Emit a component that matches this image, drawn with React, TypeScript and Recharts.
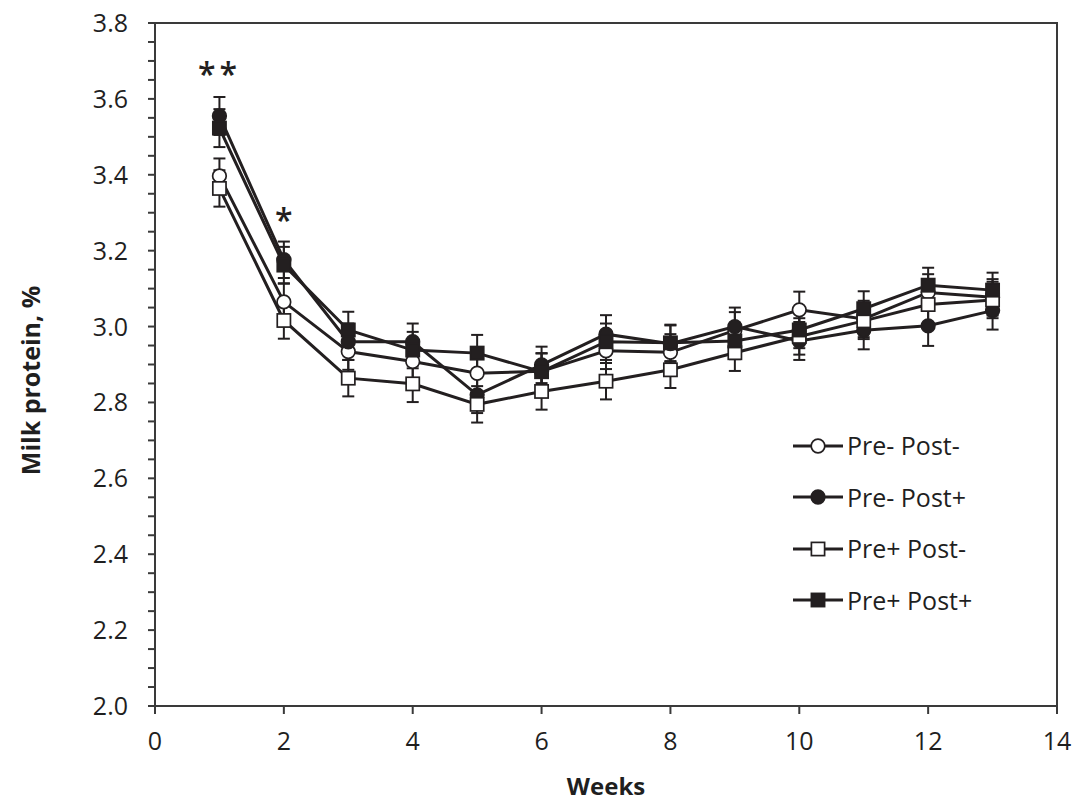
import React from 'react'
import { LineChart, Line, XAxis, YAxis, ErrorBar, ReferenceArea, ReferenceDot } from 'recharts'

const weeks = [1, 2, 3, 4, 5, 6, 7, 8, 9, 10, 11, 12, 13]

// Pre- Post- (open circle)
const preMinusPostMinus = [3.397, 3.065, 2.934, 2.908, 2.877, 2.882, 2.936, 2.932, 2.99, 3.044, 3.02, 3.09, 3.077]
const preMinusPostMinusErr = [0.046, 0.048, 0.048, 0.048, 0.048, 0.048, 0.048, 0.048, 0.048, 0.048, 0.048, 0.048, 0.048]
// Pre- Post+ (filled circle)
const preMinusPostPlus = [3.555, 3.176, 2.96, 2.96, 2.82, 2.899, 2.98, 2.955, 3.0, 2.962, 2.99, 3.002, 3.042]
const preMinusPostPlusErr = [0.05, 0.048, 0.048, 0.048, 0.048, 0.048, 0.05, 0.048, 0.05, 0.05, 0.05, 0.053, 0.05]
// Pre+ Post- (open square)
const prePlusPostMinus = [3.364, 3.016, 2.864, 2.849, 2.795, 2.829, 2.856, 2.886, 2.931, 2.974, 3.015, 3.058, 3.07]
const prePlusPostMinusErr = [0.048, 0.048, 0.048, 0.048, 0.048, 0.048, 0.048, 0.048, 0.048, 0.048, 0.048, 0.048, 0.048]
// Pre+ Post+ (filled square)
const prePlusPostPlus = [3.523, 3.162, 2.991, 2.938, 2.93, 2.881, 2.96, 2.957, 2.962, 2.991, 3.047, 3.109, 3.096]
const prePlusPostPlusErr = [0.05, 0.048, 0.048, 0.048, 0.048, 0.048, 0.048, 0.048, 0.048, 0.048, 0.046, 0.046, 0.046]

const xTicks = [0, 2, 4, 6, 8, 10, 12, 14]
const yTicks = [
  2.0, 2.05, 2.1, 2.15, 2.2, 2.25, 2.3, 2.35, 2.4, 2.45, 2.5, 2.55, 2.6, 2.65, 2.7, 2.75, 2.8, 2.85, 2.9,
  2.95, 3.0, 3.05, 3.1, 3.15, 3.2, 3.25, 3.3, 3.35, 3.4, 3.45, 3.5, 3.55, 3.6, 3.65, 3.7, 3.75, 3.8
]

const INK = '#231f20'
const AXIS = '#3a3a3a'
const TEXT = '#1f1f1f'
const FONT = '"Open Sans", sans-serif'

type Marker = 'circle' | 'square'

const SERIES: { key: string; name: string; marker: Marker; filled: boolean }[] = [
  { key: 'a', name: 'Pre- Post-', marker: 'circle', filled: false },
  { key: 'b', name: 'Pre- Post+', marker: 'circle', filled: true },
  { key: 'c', name: 'Pre+ Post-', marker: 'square', filled: false },
  { key: 'd', name: 'Pre+ Post+', marker: 'square', filled: true }
]

const data = weeks.map((w, i) => ({
  week: w,
  a: preMinusPostMinus[i], aErr: preMinusPostMinusErr[i],
  b: preMinusPostPlus[i], bErr: preMinusPostPlusErr[i],
  c: prePlusPostMinus[i], cErr: prePlusPostMinusErr[i],
  d: prePlusPostPlus[i], dErr: prePlusPostPlusErr[i]
}))

function MarkerShape({ cx, cy, marker, filled }: { cx: number; cy: number; marker: Marker; filled: boolean }) {
  const fill = filled ? INK : '#ffffff'
  if (marker === 'circle') {
    return <circle cx={cx} cy={cy} r={6.8} fill={fill} stroke={INK} strokeWidth={1.7} />
  }
  return <rect x={cx - 6.6} y={cy - 6.6} width={13.2} height={13.2} fill={fill} stroke={INK} strokeWidth={1.7} />
}

const makeDot = (marker: Marker, filled: boolean) => (props: any) => {
  const { cx, cy, index } = props
  if (cx == null || cy == null) return <g key={index} />
  return <MarkerShape key={index} cx={cx} cy={cy} marker={marker} filled={filled} />
}

const isMajor = (v: number) => Math.abs(v * 5 - Math.round(v * 5)) < 1e-6

function YTick(props: any) {
  const { x, y, payload } = props
  if (!isMajor(payload.value)) return <g />
  return (
    <text x={x} y={y} dy={9} textAnchor="end" fontFamily={FONT} fontSize={25} fill={TEXT}>
      {payload.value.toFixed(1)}
    </text>
  )
}

function XTick(props: any) {
  const { x, y, payload } = props
  return (
    <text x={x} y={y} dy={9} textAnchor="middle" fontFamily={FONT} fontSize={25} fill={TEXT}>
      {payload.value}
    </text>
  )
}

function YLabel(props: any) {
  const { viewBox } = props
  const cx = viewBox.x + 30
  const cy = viewBox.y + viewBox.height / 2 + 16
  return (
    <text x={cx} y={cy} transform={`rotate(-90, ${cx}, ${cy})`} textAnchor="middle" dominantBaseline="central"
      fontFamily={FONT} fontWeight={700} fontSize={25} fill={TEXT}>
      Milk protein, %
    </text>
  )
}

function XLabel(props: any) {
  const { viewBox } = props
  return (
    <text x={viewBox.x + viewBox.width / 2} y={viewBox.y + 79} textAnchor="middle" dominantBaseline="central"
      fontFamily={FONT} fontWeight={700} fontSize={24} fill={TEXT}>
      Weeks
    </text>
  )
}

function LegendBox() {
  return (
    <div style={{ position: 'absolute', left: 793, top: 420, fontFamily: FONT, fontSize: 25, color: TEXT }}>
      {SERIES.map((s) => (
        <div key={s.key} style={{ display: 'flex', alignItems: 'center', height: 51.5 }}>
          <svg width={50} height={20} style={{ display: 'block' }}>
            <line x1={0} x2={50} y1={10} y2={10} stroke={INK} strokeWidth={3} />
            <MarkerShape cx={25} cy={10} marker={s.marker} filled={s.filled} />
          </svg>
          <span style={{ marginLeft: 4, lineHeight: '25px' }}>{s.name}</span>
        </div>
      ))}
    </div>
  )
}

export default function App() {
  return (
    <div style={{ position: 'absolute', left: 0, top: 0, width: 1074, height: 800, background: '#ffffff' }}>
      <LineChart width={1074} height={800} data={data} margin={{ top: 23, right: 17, bottom: 0, left: 0 }}>
        <XAxis
          dataKey="week"
          type="number"
          domain={[0, 14]}
          ticks={xTicks}
          height={94}
          tickSize={8}
          tickMargin={27}
          axisLine={{ stroke: AXIS, strokeWidth: 2 }}
          tickLine={{ stroke: AXIS, strokeWidth: 2 }}
          tick={<XTick />}
          label={<XLabel />}
        />
        <YAxis
          type="number"
          domain={[2, 3.8]}
          ticks={yTicks}
          interval={0}
          width={155}
          tickSize={7}
          tickMargin={20}
          axisLine={{ stroke: AXIS, strokeWidth: 2 }}
          tickLine={{ stroke: AXIS, strokeWidth: 2 }}
          tick={<YTick />}
          label={<YLabel />}
        />
        <ReferenceArea x1={0} x2={14} y1={2} y2={3.8} fill="none" stroke={AXIS} strokeWidth={2} ifOverflow="visible" />
        {SERIES.map((s) => (
          <Line
            key={s.key}
            type="linear"
            dataKey={s.key}
            name={s.name}
            stroke={INK}
            strokeWidth={3}
            dot={makeDot(s.marker, s.filled)}
            activeDot={false}
            isAnimationActive={false}
          >
            <ErrorBar dataKey={`${s.key}Err`} direction="y" width={6} stroke={INK} strokeWidth={2} isAnimationActive={false} />
          </Line>
        ))}
        <ReferenceDot x={1} y={3.665} r={0} ifOverflow="visible"
          label={{ value: '**', position: 'center', fontSize: 32, fontWeight: 600, letterSpacing: 4, fill: INK, fontFamily: FONT }} />
        <ReferenceDot x={2} y={3.28} r={0} ifOverflow="visible"
          label={{ value: '*', position: 'center', fontSize: 32, fontWeight: 600, fill: INK, fontFamily: FONT }} />
      </LineChart>
      <LegendBox />
    </div>
  )
}
